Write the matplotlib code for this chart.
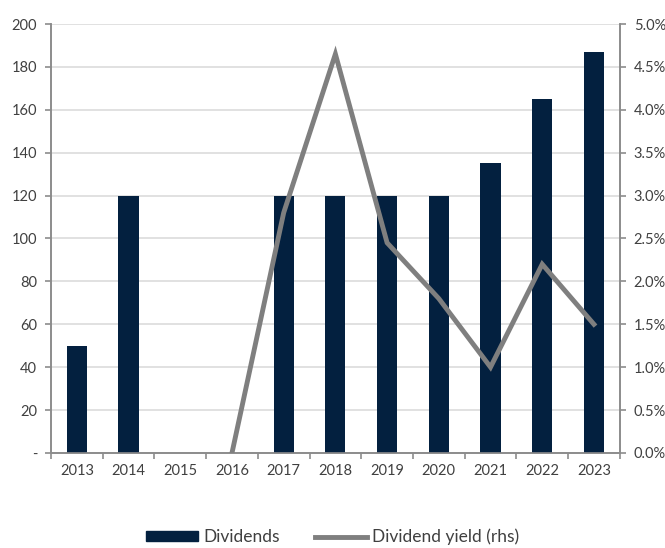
import matplotlib
matplotlib.use("Agg")
import matplotlib.pyplot as plt
from matplotlib.ticker import FuncFormatter, FixedLocator
from matplotlib.patches import Patch
from matplotlib.lines import Line2D
import numpy as np

plt.rcParams['font.family'] = ['Lato', 'DejaVu Sans']

years = ['2013', '2014', '2015', '2016', '2017', '2018', '2019', '2020', '2021', '2022', '2023']
dividends = [50, 120, 0, 0, 120, 120, 120, 120, 135, 165, 187]
yield_years = ['2016', '2017', '2018', '2019', '2020', '2021', '2022', '2023']
dividend_yield = [0.0, 2.8, 4.65, 2.45, 1.8, 1.0, 2.2, 1.5]

navy = '#03203f'
grey_line = '#7f7f7f'
axis_grey = '#8c8c8c'
grid_grey = '#dcdcdc'
text_col = '#404040'

fig = plt.figure(figsize=(6.65, 5.48), dpi=100)
ax = fig.add_axes([0.0767, 0.1734, 0.8553, 0.7828])
ax2 = ax.twinx()

x = np.arange(len(years))
ax.bar(x, dividends, width=0.39, color=navy, zorder=3)
ax.set_xlim(-0.5, len(years) - 0.5)
ax.set_ylim(0, 200)
ax.set_yticks(np.arange(0, 201, 20))
ax.yaxis.set_major_formatter(FuncFormatter(lambda v, p: '-' if v == 0 else f'{int(v)}'))
ax.grid(axis='y', color=grid_grey, linewidth=1.2, zorder=0)
ax.set_axisbelow(True)

ax.set_xticks(x)
ax.set_xticklabels(years)
ax.xaxis.set_minor_locator(FixedLocator(np.arange(-0.5, len(years), 1.0)))
ax.tick_params(axis='x', which='major', length=0, pad=8, labelsize=10.5, colors=text_col)
ax.tick_params(axis='x', which='minor', length=4, color=axis_grey, width=1.2)
ax.tick_params(axis='y', length=4, color=axis_grey, width=1.2, labelsize=10.5, labelcolor=text_col, pad=6)

yx = [years.index(y) for y in yield_years]
ax2.plot(yx, dividend_yield, color=grey_line, linewidth=3.5, zorder=4, solid_joinstyle='miter')
ax2.set_ylim(0, 5)
ax2.set_yticks(np.arange(0, 5.01, 0.5))
ax2.yaxis.set_major_formatter(FuncFormatter(lambda v, p: f'{v:.1f}%'))
ax2.tick_params(axis='y', length=4, color=axis_grey, width=1.2, labelsize=10.5, labelcolor=text_col, pad=6)

for a in (ax, ax2):
    a.spines['top'].set_visible(False)
    for s in ('left', 'right', 'bottom'):
        a.spines[s].set_color(axis_grey)
        a.spines[s].set_linewidth(1.2)

handles = [Patch(facecolor=navy, edgecolor=navy),
           Line2D([0], [0], color=grey_line, linewidth=3.5)]
fig.legend(handles, ['Dividends', 'Dividend yield (rhs)'], loc='center',
           bbox_to_anchor=(0.5, 0.02), ncol=2, frameon=False, fontsize=12.5,
           handlelength=3.0, handleheight=0.55, handletextpad=0.3, columnspacing=2.0,
           labelcolor=text_col)

fig.savefig('out.png', dpi=100)
